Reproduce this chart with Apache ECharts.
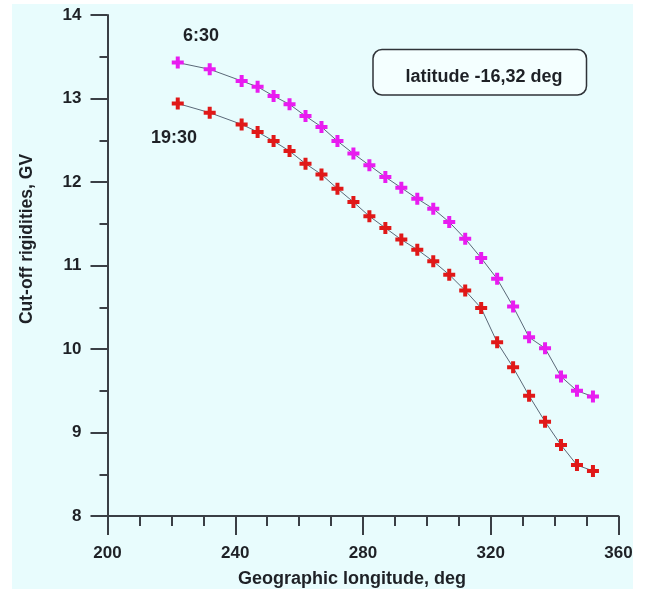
<!DOCTYPE html>
<html>
<head>
<meta charset="utf-8">
<script src="https://cdn.jsdelivr.net/npm/echarts@6/dist/echarts.min.js"></script>
<style>
html,body{margin:0;padding:0;background:#ffffff;}
#chart{width:645px;height:593px;}
</style>
</head>
<body>
<div id="chart"></div>
<script>
// Data
const longitudes = [222,232,242,247,252,257,262,267,272,277,282,287,292,297,302,307,312,317,322,327,332,337,342,347,352];
const rigidity_0630 = [13.43,13.35,13.21,13.14,13.03,12.93,12.79,12.66,12.49,12.34,12.20,12.06,11.93,11.80,11.68,11.52,11.32,11.09,10.84,10.51,10.14,10.01,9.67,9.50,9.43];
const rigidity_1930 = [12.94,12.83,12.69,12.60,12.49,12.37,12.22,12.09,11.92,11.76,11.59,11.45,11.31,11.19,11.05,10.89,10.70,10.49,10.08,9.78,9.44,9.13,8.85,8.61,8.54];
const seriesNames = ['6:30','19:30'];
const xTickLabels = [200,240,280,320,360];
const yTickLabels = [8,9,10,11,12,13,14];
const annotation = 'latitude -16,32 deg';
const xTitle = 'Geographic longitude, deg';
const yTitle = 'Cut-off rigidities, GV';

const font = '"Liberation Sans", Arial, sans-serif';
const axisColor = '#3a3f45';
const textColor = '#1e2126';
const plus = 'path://M4,0 H8 V4 H12 V8 H8 V12 H4 V8 H0 V4 H4 Z';

const chart = echarts.init(document.getElementById('chart'), null, {renderer:'canvas'});
const pair = (xs, ys) => xs.map((x,i)=>[x, ys[i]]);

chart.setOption({
  animation:false,
  backgroundColor:'#ffffff',
  graphic:[
    {type:'rect', z:-10, shape:{x:12, y:4, width:621, height:585}, style:{fill:'#e8fcfd'}},
    {type:'rect', z:10, shape:{x:373, y:49.5, width:213.5, height:45.5, r:9}, style:{fill:'#f4ffff', stroke:'#2f3338', lineWidth:1.5}},
    {type:'text', z:11, x:484, y:77, style:{text:annotation, font:'bold 18px '+font, fill:textColor, align:'center', verticalAlign:'middle'}},
    {type:'text', z:11, x:201, y:36, style:{text:seriesNames[0], font:'bold 18px '+font, fill:textColor, align:'center', verticalAlign:'middle'}},
    {type:'text', z:11, x:174, y:138, style:{text:seriesNames[1], font:'bold 18px '+font, fill:textColor, align:'center', verticalAlign:'middle'}}
  ],
  grid:{left:107.5, right:26.5, top:15, bottom:69, containLabel:false},
  xAxis:{
    type:'value', min:200, max:360, interval:40,
    name:xTitle, nameLocation:'middle', nameGap:54,
    nameTextStyle:{fontFamily:font, fontWeight:'bold', fontSize:18, color:textColor, padding:[0,22,0,0]},
    axisLine:{show:true, onZero:false, lineStyle:{color:axisColor, width:2}},
    axisTick:{show:true, inside:false, length:19, lineStyle:{color:axisColor, width:2}},
    minorTick:{show:true, splitNumber:4, length:10, lineStyle:{color:axisColor, width:2}},
    splitLine:{show:false},
    axisLabel:{margin:29, fontFamily:font, fontWeight:'bold', fontSize:17, color:textColor,
      formatter:v=>xTickLabels.includes(v)?String(v):''}
  },
  yAxis:{
    type:'value', min:8, max:14, interval:1,
    name:yTitle, nameLocation:'middle', nameGap:71, nameRotate:90,
    nameTextStyle:{fontFamily:font, fontWeight:'bold', fontSize:17.5, color:textColor, padding:[0,0,0,53]},
    axisLine:{show:true, onZero:false, lineStyle:{color:axisColor, width:2}},
    axisTick:{show:true, inside:false, length:17, lineStyle:{color:axisColor, width:2}},
    minorTick:{show:true, splitNumber:2, length:8, lineStyle:{color:axisColor, width:2}},
    splitLine:{show:false},
    axisLabel:{margin:26, fontFamily:font, fontWeight:'bold', fontSize:17, color:textColor,
      formatter:v=>yTickLabels.includes(v)?String(v):''}
  },
  series:[
    {name:seriesNames[0], type:'line', data:pair(longitudes, rigidity_0630),
     symbol:plus, symbolSize:12, showAllSymbol:true,
     lineStyle:{color:'#5a6878', width:1}, itemStyle:{color:'#e81cf0'}},
    {name:seriesNames[1], type:'line', data:pair(longitudes, rigidity_1930),
     symbol:plus, symbolSize:12, showAllSymbol:true,
     lineStyle:{color:'#5a6878', width:1}, itemStyle:{color:'#e01818'}}
  ]
});
</script>
</body>
</html>
